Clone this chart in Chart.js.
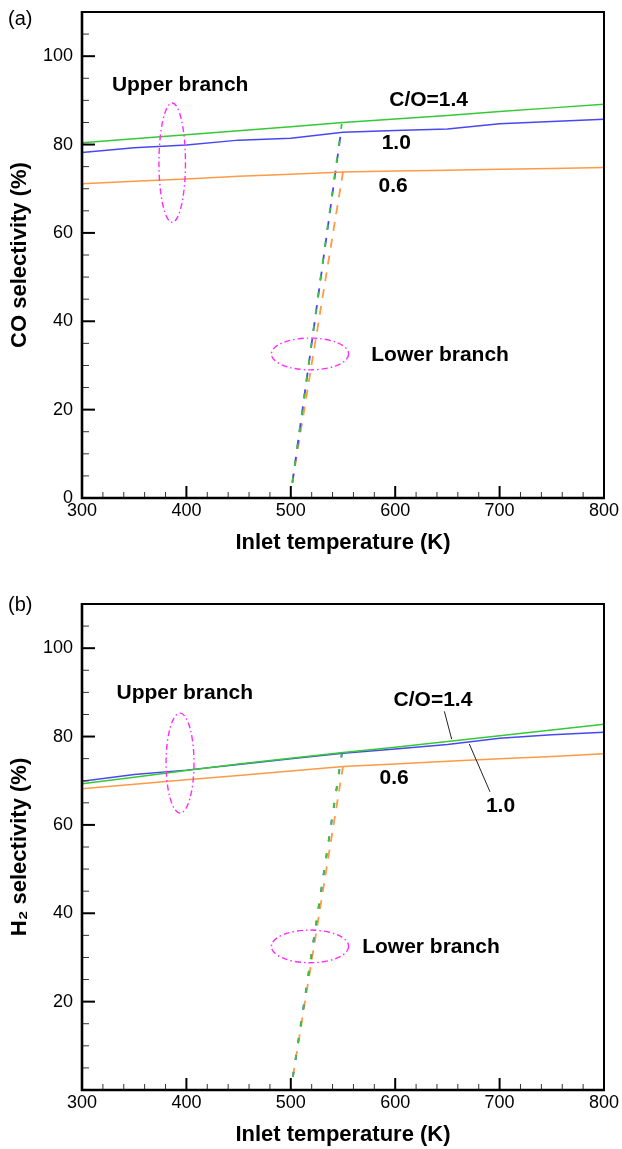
<!DOCTYPE html>
<html>
<head>
<meta charset="utf-8">
<script src="https://cdn.jsdelivr.net/npm/chart.js@4.4.1/dist/chart.umd.min.js"></script>
<style>
  html, body { margin: 0; padding: 0; background: #fff; overflow: hidden; }
  .painel { position: relative; width: 622px; }
  #painel_co { height: 592px; }
  #painel_h2 { height: 557px; }
</style>
</head>
<body>
<div class="painel" id="painel_co"><canvas id="grafico_co"></canvas></div>
<div class="painel" id="painel_h2"><canvas id="grafico_h2"></canvas></div>
<script>
//? temperaturas do ramo superior (K)
let temperaturas = [300, 350, 400, 450, 500, 550, 600, 650, 700, 750, 800];

//! (a) seletividade de CO - ramo superior
let co_sup_14 = [80.4, 81.3, 82.2, 83.1, 84.0, 85.0, 85.8, 86.6, 87.5, 88.3, 89.1];
let co_sup_10 = [78.2, 79.3, 79.9, 81.0, 81.4, 82.8, 83.2, 83.5, 84.7, 85.2, 85.7];
let co_sup_06 = [71.1, 71.7, 72.2, 72.8, 73.3, 73.8, 74.0, 74.2, 74.4, 74.6, 74.8];

//! (a) ramo inferior (tracejado): [inicio, fim]
let co_inf_temp_14 = [501.5, 549];
let co_inf_14 = [3.5, 85.0];
let co_inf_temp_10 = [501.5, 548];
let co_inf_10 = [3.5, 82.7];
let co_inf_temp_06 = [501.5, 550];
let co_inf_06 = [3.5, 73.8];

//! (b) seletividade de H2 - ramo superior
let h2_sup_14 = [69.3, 70.8, 72.3, 73.8, 75.1, 76.4, 77.6, 78.9, 80.2, 81.5, 82.8];
let h2_sup_10 = [69.9, 71.4, 72.4, 73.7, 75.0, 76.2, 77.2, 78.2, 79.6, 80.4, 81.0];
let h2_sup_06 = [68.2, 69.2, 70.2, 71.2, 72.2, 73.2, 73.8, 74.4, 75.0, 75.5, 76.1];

//! (b) ramo inferior
let h2_inf_temp_14 = [502, 549];
let h2_inf_14 = [3.0, 76.4];
let h2_inf_temp_10 = [502, 549];
let h2_inf_10 = [3.0, 76.2];
let h2_inf_temp_06 = [502, 550];
let h2_inf_06 = [3.0, 73.2];

//* eixos
let x_ticks = [300, 400, 500, 600, 700, 800];
let y_ticks_co = [0, 20, 40, 60, 80, 100];
let y_ticks_h2 = [20, 40, 60, 80, 100];

const FONTE = '"Liberation Sans", Arial, Helvetica, sans-serif';
const VERDE = "#35c935";
const AZUL = "#4848f0";
const LARANJA = "#ff9a45";
const MAGENTA = "#ff2cff";

// tracejados: curto por cima do longo, cada traco fica com duas cores
const TRACO_LONGO = [9, 8];
const TRACO_CURTO = [5, 12];

// anotacoes de cada painel (coordenadas em K / %)
let notas_co = {
    rotulo: "(a)",
    rotulo_y: 19,
    textos: [
        { txt: "Upper branch", x: 394, y: 93.5 },
        { txt: "C/O=1.4", x: 632, y: 90.1 },
        { txt: "1.0", x: 601, y: 80.3 },
        { txt: "0.6", x: 598, y: 70.5 },
        { txt: "Lower branch", x: 643, y: 32.4 },
    ],
    elipses: [
        { x: 386.4, y: 75.9, rx: 12.7, ry: 13.5 },
        { x: 518.4, y: 32.6, rx: 37, ry: 3.6 },
    ],
    linhas: [],
};

let notas_h2 = {
    rotulo: "(b)",
    rotulo_y: 13,
    textos: [
        { txt: "Upper branch", x: 398.4, y: 89.8 },
        { txt: "C/O=1.4", x: 636.2, y: 88.3 },
        { txt: "0.6", x: 598.9, y: 70.6 },
        { txt: "1.0", x: 700.9, y: 64.3 },
        { txt: "Lower branch", x: 634.3, y: 32.4 },
    ],
    elipses: [
        { x: 393.9, y: 74.0, rx: 13.4, ry: 11.3 },
        { x: 518.4, y: 32.5, rx: 37, ry: 3.7 },
    ],
    linhas: [
        [[647.1, 85.7], [654.1, 79.4]],
        [[671, 78.3], [690.8, 67.5]],
    ],
};

const pares = (xs, ys) => xs.map((x, i) => ({ x: x, y: ys[i] }));

function serie(xs, ys, cor, traco) {
    return {
        data: pares(xs, ys),
        borderColor: cor,
        borderWidth: traco ? 1.8 : 1.5,
        borderDash: traco || [],
        pointRadius: 0,
        tension: 0,
        fill: false,
    };
}

// moldura com ticks para dentro + textos, elipses e linhas de chamada
const moldura = {
    id: "moldura",
    afterDraw(chart) {
        const ctx = chart.ctx;
        const a = chart.chartArea;
        const sx = chart.scales.x;
        const sy = chart.scales.y;
        const notas = chart.options.plugins.moldura;
        ctx.save();
        ctx.strokeStyle = "#000";
        ctx.setLineDash([]);

        // ticks y a cada 5, maiores a cada 20
        for (let v = 0; v <= 110; v += 5) {
            const py = sy.getPixelForValue(v);
            const maior = v % 20 === 0;
            ctx.lineWidth = maior ? 2 : 1;
            ctx.strokeStyle = maior ? "#000" : "#333";
            ctx.beginPath();
            ctx.moveTo(a.left, py);
            ctx.lineTo(a.left + (maior ? 13 : 7), py);
            ctx.stroke();
        }
        // ticks x a cada 20, maiores a cada 100
        for (let v = 300; v <= 800; v += 20) {
            const px = sx.getPixelForValue(v);
            const maior = v % 100 === 0;
            ctx.lineWidth = maior ? 2 : 1;
            ctx.strokeStyle = maior ? "#000" : "#333";
            ctx.beginPath();
            ctx.moveTo(px, a.bottom);
            ctx.lineTo(px, a.bottom - (maior ? 12 : 6));
            ctx.stroke();
        }

        ctx.strokeStyle = "#000";
        ctx.lineWidth = 2;
        ctx.beginPath();
        ctx.moveTo(a.left, a.top);
        ctx.lineTo(a.right, a.top);
        ctx.lineTo(a.right, a.bottom);
        ctx.stroke();
        ctx.lineWidth = 2.6;
        ctx.beginPath();
        ctx.moveTo(a.left, a.top - 1);
        ctx.lineTo(a.left, a.bottom);
        ctx.lineTo(a.right + 1, a.bottom);
        ctx.stroke();

        // elipses tracejado-ponto
        ctx.strokeStyle = MAGENTA;
        ctx.lineWidth = 1.4;
        ctx.setLineDash([6, 3, 1.5, 3]);
        notas.elipses.forEach((e) => {
            const cx = sx.getPixelForValue(e.x);
            const cy = sy.getPixelForValue(e.y);
            const rx = Math.abs(sx.getPixelForValue(e.x + e.rx) - cx);
            const ry = Math.abs(sy.getPixelForValue(e.y + e.ry) - cy);
            ctx.beginPath();
            ctx.ellipse(cx, cy, rx, ry, 0, 0, Math.PI * 2);
            ctx.stroke();
        });

        ctx.setLineDash([]);
        ctx.strokeStyle = "#222";
        ctx.lineWidth = 1;
        notas.linhas.forEach((l) => {
            ctx.beginPath();
            ctx.moveTo(sx.getPixelForValue(l[0][0]), sy.getPixelForValue(l[0][1]));
            ctx.lineTo(sx.getPixelForValue(l[1][0]), sy.getPixelForValue(l[1][1]));
            ctx.stroke();
        });

        ctx.fillStyle = "#000";
        ctx.font = "bold 21px " + FONTE;
        ctx.textAlign = "center";
        ctx.textBaseline = "middle";
        notas.textos.forEach((t) => {
            ctx.fillText(t.txt, sx.getPixelForValue(t.x), sy.getPixelForValue(t.y));
        });

        ctx.font = "20px " + FONTE;
        ctx.textAlign = "left";
        ctx.fillText(notas.rotulo, 8, notas.rotulo_y);
        ctx.restore();
    },
};

function grafico(id, datasets, titulo_y, ticks_y, notas) {
    return new Chart(id, {
        type: "line",
        data: { datasets: datasets },
        plugins: [moldura],
        options: {
            responsive: true,
            maintainAspectRatio: false,
            animation: false,
            layout: { padding: { top: 12, right: 18, left: 0, bottom: 0 } },
            plugins: {
                legend: { display: false },
                tooltip: { enabled: false },
                moldura: notas,
            },
            scales: {
                x: {
                    type: "linear",
                    min: 300,
                    max: 800,
                    afterBuildTicks: (s) => {
                        s.ticks = x_ticks.map((v) => ({ value: v }));
                    },
                    afterFit: (s) => {
                        s.height = s.chart.height - 498;
                        s.paddingLeft = 0;
                        s.paddingRight = 0;
                    },
                    grid: { display: false, drawTicks: false },
                    border: { display: false },
                    ticks: {
                        color: "#000",
                        padding: 2,
                        maxRotation: 0,
                        font: { family: FONTE, size: 18 },
                    },
                    title: {
                        display: true,
                        text: "Inlet temperature (K)",
                        color: "#000",
                        font: { family: FONTE, size: 22, weight: "bold" },
                        padding: { top: 0, bottom: 0 },
                    },
                },
                y: {
                    min: 0,
                    max: 110,
                    afterBuildTicks: (s) => {
                        s.ticks = ticks_y.map((v) => ({ value: v }));
                    },
                    afterFit: (s) => {
                        s.width = 82;
                        // o eixo vai ate 110, sem rotulo no topo: sem folga extra
                        s.paddingTop = 0;
                        s.paddingBottom = 0;
                    },
                    grid: { display: false, drawTicks: false },
                    border: { display: false },
                    ticks: {
                        color: "#000",
                        padding: 9,
                        font: { family: FONTE, size: 18 },
                    },
                    title: {
                        display: true,
                        text: titulo_y,
                        color: "#000",
                        font: { family: FONTE, size: 22, weight: "bold" },
                        padding: { top: 7, bottom: 0 },
                    },
                },
            },
        },
    });
}

// o primeiro dataset fica por cima
let g_co = grafico(
    "grafico_co",
    [
        serie(temperaturas, co_sup_14, VERDE),
        serie(temperaturas, co_sup_10, AZUL),
        serie(temperaturas, co_sup_06, LARANJA),
        serie(co_inf_temp_14, co_inf_14, VERDE, TRACO_CURTO),
        serie(co_inf_temp_10, co_inf_10, AZUL, TRACO_LONGO),
        serie(co_inf_temp_06, co_inf_06, LARANJA, TRACO_LONGO),
    ],
    "CO selectivity (%)",
    y_ticks_co,
    notas_co,
);

let g_h2 = grafico(
    "grafico_h2",
    [
        serie(temperaturas, h2_sup_14, VERDE),
        serie(temperaturas, h2_sup_10, AZUL),
        serie(temperaturas, h2_sup_06, LARANJA),
        serie(h2_inf_temp_14, h2_inf_14, VERDE, TRACO_CURTO),
        serie(h2_inf_temp_10, h2_inf_10, AZUL, TRACO_CURTO),
        serie(h2_inf_temp_06, h2_inf_06, LARANJA, TRACO_LONGO),
    ],
    "H\u2082 selectivity (%)",
    y_ticks_h2,
    notas_h2,
);

// posicao vertical do titulo do eixo x (centro em y = 543 nos dois paineis)
[g_co, g_h2].forEach((g) => {
    g.options.scales.x.title.padding.bottom = g.height - 543 - 13.2;
    g.update();
});
</script>
</body>
</html>
